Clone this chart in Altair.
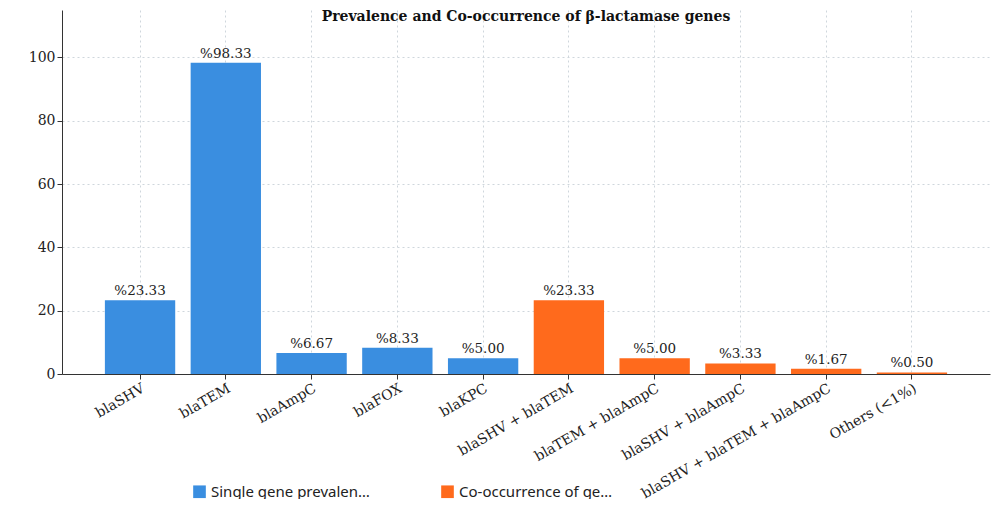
import altair as alt
import pandas as pd

genes = ["blaSHV", "blaTEM", "blaAmpC", "blaFOX", "blaKPC",
         "blaSHV + blaTEM", "blaTEM + blaAmpC", "blaSHV + blaAmpC",
         "blaSHV + blaTEM + blaAmpC", "Others (<1%)"]
values = [23.33, 98.33, 6.67, 8.33, 5.00, 23.33, 5.00, 3.33, 1.67, 0.50]
groups = ["Single gene prevalence"] * 5 + ["Co-occurrence of genes"] * 5

df = pd.DataFrame({"gene": genes, "value": values, "group": groups})
df["label"] = ["%" + f"{v:.2f}" for v in values]

serif = "DejaVu Serif"
x = alt.X("gene:N", sort=genes, title=None,
          scale=alt.Scale(paddingInner=0.18, paddingOuter=0.5),
          axis=alt.Axis(labelAngle=-30, labelFont=serif, labelFontSize=14,
                        labelColor="#222", labelAlign="right", labelBaseline="top",
                        grid=True, gridDash=[2, 3], gridColor="#cfd6dc",
                        domainColor="#333", tickColor="#333", labelLimit=400))
y = alt.Y("value:Q", title=None,
          scale=alt.Scale(domain=[0, 115], nice=False),
          axis=alt.Axis(values=[0, 20, 40, 60, 80, 100], labelFont=serif,
                        labelFontSize=14, labelColor="#222", gridDash=[2, 3],
                        gridColor="#cfd6dc", domainColor="#333", tickColor="#333"))

bars = alt.Chart(df).mark_bar().encode(
    x=x, y=y,
    color=alt.Color("group:N", title=None,
                    scale=alt.Scale(domain=["Single gene prevalence", "Co-occurrence of genes"],
                                    range=["#3a8ee0", "#ff6a1c"]),
                    legend=alt.Legend(orient="none", legendX=130, legendY=474,
                                      direction="horizontal", columns=2,
                                      columnPadding=70, symbolType="square",
                                      symbolSize=160, labelFontSize=15,
                                      labelFont="Noto Sans", labelColor="#222")))
text = alt.Chart(df).mark_text(dy=-9, font=serif, fontSize=13.5, color="#222").encode(
    x=alt.X("gene:N", sort=genes), y="value:Q", text="label:N")

chart = (bars + text).properties(
    width=928, height=364,
    title=alt.TitleParams("Prevalence and Co-occurrence of β-lactamase genes",
                          font=serif, fontSize=14, fontWeight="bold", offset=-14,
                          color="#111"),
    autosize=alt.AutoSizeParams(type="none"),
    padding={"left": 54, "top": 2, "right": 2, "bottom": 125},
).configure_view(stroke=None)

chart.save("out.html", embed_options={"renderer": "svg", "actions": False})
